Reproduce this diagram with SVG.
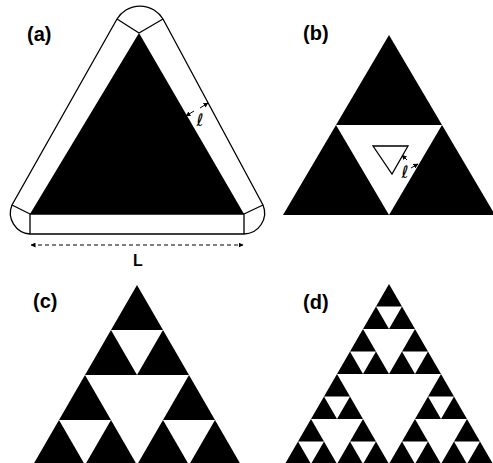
<svg xmlns="http://www.w3.org/2000/svg" width="493" height="463" viewBox="0 0 493 463">
<style>
.lbl{font-family:"Liberation Sans",Arial,sans-serif;font-weight:bold;font-size:20px;fill:#000}
.ell{font-family:"DejaVu Sans","DejaVu Serif",sans-serif;font-size:17px;fill:#000}
.blk{fill:#000;stroke:none}
.wht{fill:#fff;stroke:none}
.ln{fill:none;stroke:#000;stroke-width:1.3}
.arr{fill:none;stroke:#000;stroke-width:1}
</style>
<defs>
<marker id="ah" viewBox="0 0 10 10" refX="9" refY="5" markerWidth="5" markerHeight="5" orient="auto-start-reverse">
<path d="M0,0 L10,5 L0,10 Z" fill="#000"/>
</marker>
<polygon id="w3" points="-13,22.5 13,22.5 0,45" fill="#fff"/>
</defs>
<rect width="493" height="463" fill="#fff"/>

<g id="panel-a">
<path class="ln" d="M117,19 A27,27 0 0 1 163,19 L263,205 A21,21 0 0 1 244,234 L30,234 A21,21 0 0 1 12,205 Z" fill="#fff"/>
<polygon class="blk" points="139,33 30,214 244,214"/>
<path class="ln" d="M139,33 L117,19 M139,33 L163,19 M30,214 L12,205 M30,214 L30,234 M244,214 L263,205 M244,214 L244,234 M30,214 L244,214"/>
<text class="lbl" x="27" y="41">(a)</text>
<text class="lbl" x="138" y="266" text-anchor="middle" style="font-size:16px">L</text>
<text class="ell" x="200" y="126" text-anchor="middle">ℓ</text>
</g>

<g id="panel-b">
<polygon class="blk" points="389,35 283,215 495,215"/>
<polygon class="wht" points="336,125 442,125 389,215"/>
<polygon class="ln" points="373,146 408,146 392,174" fill="#fff"/>
<text class="lbl" x="303" y="40">(b)</text>
<text class="ell" x="405" y="178" text-anchor="middle">ℓ</text>
</g>

<g id="panel-c">
<polygon class="blk" points="137,285 33,465 241,465"/>
<polygon class="wht" points="85,375 189,375 137,465"/>
<polygon class="wht" points="111,330 163,330 137,375"/>
<polygon class="wht" points="59,420 111,420 85,465"/>
<polygon class="wht" points="163,420 215,420 189,465"/>
<text class="lbl" x="33" y="308">(c)</text>
</g>

<g id="panel-d">
<polygon class="blk" points="389,284 285,464 493,464"/>
<polygon class="wht" points="337,374 441,374 389,464"/>
<polygon class="wht" points="363,329 415,329 389,374"/>
<polygon class="wht" points="311,419 363,419 337,464"/>
<polygon class="wht" points="415,419 467,419 441,464"/>
<use href="#w3" x="389" y="284"/>
<use href="#w3" x="363" y="329"/>
<use href="#w3" x="415" y="329"/>
<use href="#w3" x="337" y="374"/>
<use href="#w3" x="311" y="419"/>
<use href="#w3" x="363" y="419"/>
<use href="#w3" x="441" y="374"/>
<use href="#w3" x="415" y="419"/>
<use href="#w3" x="467" y="419"/>
<text class="lbl" x="303" y="309">(d)</text>
</g>

<g id="connectors">
<line class="arr" x1="31" y1="245" x2="243" y2="245" stroke-dasharray="4,3" marker-start="url(#ah)" marker-end="url(#ah)"/>
<line class="arr" x1="194" y1="111" x2="186" y2="116" marker-end="url(#ah)"/>
<line class="arr" x1="200" y1="108" x2="208" y2="103" marker-end="url(#ah)"/>
<line class="arr" x1="407" y1="160" x2="402" y2="155" marker-end="url(#ah)"/>
<line class="arr" x1="411" y1="168" x2="418" y2="164" marker-end="url(#ah)"/>
</g>
</svg>
